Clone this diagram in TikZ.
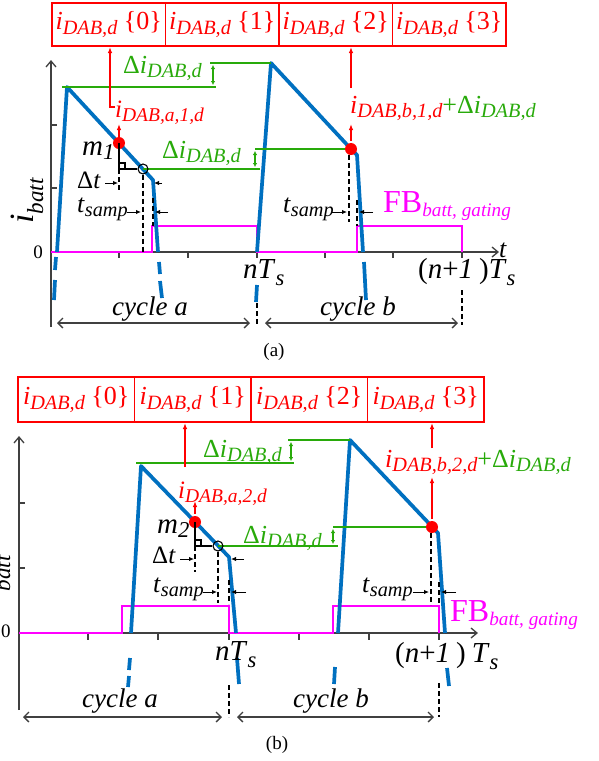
\documentclass[tikz,border=0pt]{standalone}
\usepackage{fontspec}
\setmainfont{Liberation Serif}
\usepackage{graphicx}
\usetikzlibrary{arrows.meta}
\definecolor{cblue}{RGB}{0,112,192}
\definecolor{cgreen}{RGB}{40,170,10}
\definecolor{cred}{RGB}{255,0,0}
\definecolor{cmag}{RGB}{255,0,255}
\definecolor{cax}{RGB}{64,64,64}
\newcommand\sbx[3]{\raisebox{#1}{\scalebox{#2}{\itshape #3}}}
\newcommand\sbs[1]{\sbx{-0.17em}{0.78}{#1}}
\newcommand\iD{\textit{i}\sbs{DAB,d}}
\newcommand\dI{Δ\textit{i}\sbs{DAB,d}}
\newcommand\fz[1]{\fontsize{#1}{#1}\selectfont}
\begin{document}
\begin{tikzpicture}[x=1pt,y=-1pt,
  lbl/.style={inner sep=0pt, anchor=base west},
  cell/.style={draw=cred, line width=1.4pt, minimum height=43pt, inner sep=0pt, text=cred, font=\fz{26}},
  axis/.style={draw=cax, line width=1.3pt, -{Straight Barb[length=6pt,width=10pt]}},
  tick/.style={draw=cax, line width=1.3pt},
  wave/.style={draw=cblue, line width=3.7pt, line join=round},
  lev/.style={draw=cgreen, line width=2.8pt},
  gdim/.style={draw=cgreen, line width=1.3pt, {Latex[length=4pt,width=4.5pt]}-{Latex[length=4pt,width=4.5pt]}},
  rarr/.style={draw=cred, line width=1.3pt, -{Latex[length=6pt,width=4.5pt]}},
  karr/.style={draw=black, line width=1pt, -{Latex[length=5pt,width=4.5pt]}},
  kline/.style={draw=black, line width=1.1pt},
  kdash/.style={draw=black, line width=1.2pt, dash pattern=on 5pt off 3pt},
  gate/.style={draw=cmag, line width=2.4pt},
  cyc/.style={draw=cax, line width=1.3pt, {Straight Barb[length=5pt,width=10pt]}-{Straight Barb[length=5pt,width=10pt]}},
  dot/.style={circle, fill=cred, inner sep=0pt, minimum size=12pt},
  ring/.style={circle, draw=black, line width=1.1pt, inner sep=0pt, minimum size=10pt},
]
\useasboundingbox (0,0) rectangle (599,761);
\fill[white] (0,0) rectangle (599,761);

% ================= panel (a) =================
\node[cell, minimum width=113.5pt] (ca0) at (108.75,24.5) {\iD\ \{0\}};
\node[cell, minimum width=113.5pt] (ca1) at (222.25,24.5) {\iD\ \{1\}};
\node[cell, minimum width=113.5pt] (ca2) at (335.75,24.5) {\iD\ \{2\}};
\node[cell, minimum width=113.5pt] (ca3) at (449.25,24.5) {\iD\ \{3\}};

\draw[axis] (51,327) -- (51,60);
\draw[axis] (51,252) -- (499,252);
\foreach \y in {125,188} \draw[tick] (51,\y) -- (57,\y);
\foreach \x in {119,188,257,325,393,462} \draw[tick] (\x,252) -- (\x,258);

\draw[gate] (51,252) -- (152,252) -- (152,226) -- (257,226) -- (257,252) -- (357,252) -- (357,226) -- (462,226) -- (462,252);

\draw[wave] (57,252) -- (67,87) -- (153,180) -- (158,252);
\draw[wave] (56,257) -- (55,270) (55,280) -- (54,300);
\draw[wave] (159,262) -- (160,274) (160,281) -- (162,298);
\draw[wave] (257,285) -- (256,302);
\draw[wave] (257,252) -- (271,63) -- (351,149) -- (357,155) -- (363,252);
\draw[wave] (364,262) -- (366,300);

\draw[lev] (62,87) -- (216,87);
\draw[lev] (210,63) -- (271,63);
\draw[gdim] (213,65) -- (213,85);
\draw[lev] (143,169) -- (260,169);
\draw[lev] (255,149) -- (351,149);
\draw[gdim] (255,151) -- (255,167);

\node[lbl, text=cgreen, font=\fz{26}] (dIa1) at (123,73) {\dI};
\node[lbl, text=cgreen, font=\fz{26}] (dIa2) at (162,158) {\dI};
\node[lbl, text=cred, font=\fz{25}] (ia1) at (115,117) {\textit{i}\sbs{DAB,a,1,d}};
\node[lbl, font=\fz{26}] (ib1) at (350,113) {\textcolor{cred}{\textit{i}\sbs{DAB,b,1,d}}\textcolor{cgreen}{+\dI}};

% black annotations cycle a
\node[dot] (da) at (119,143) {};
\node[ring] (ra) at (143,169) {};
\draw[kline] (119,143) -- (119,169) -- (ra.west);
\draw[kline] (119,163) -- (125,163) -- (125,169);
\draw[kdash] (119,169) -- (119,190);
\draw[kdash] (ra.south) -- (143,252);
\draw[kdash] (153,198) -- (153,226);
\node[lbl, font=\fz{29}] (m1) at (82,155) {\textit{m}\sbs{1}};
\node[lbl, font=\fz{25}] (dta) at (77,188) {Δ\textit{t}};
\node[lbl, font=\fz{26}] (tsa) at (77,212) {\textit{t}\sbs{samp}};
\draw[karr] (105,183) -- (118,183);
\draw[karr] (162,183) -- (154,183);
\draw[karr] (127,212) -- (141,212);
\draw[karr] (168,212) -- (155,212);

% cycle b annotations
\node[dot] (db) at (351,149) {};
\draw[kdash] (349,155) -- (349,222);
\draw[kdash] (357,200) -- (357,226);
\node[lbl, font=\fz{26}] (tsb) at (283,212) {\textit{t}\sbs{samp}};
\draw[karr] (332,212) -- (347,212);
\draw[karr] (373,212) -- (359,212);
\node[lbl, font=\fz{32}, text=cmag] (fba) at (383,212) {FB\sbx{-0.15em}{0.6}{batt, gating}};

% red arrows
\draw[rarr] (119,137) -- (119,124);
\draw[rarr] (115,107) -- (110,107) -- (110,47);
\draw[rarr] (351,141) -- (351,124);
\draw[rarr] (351,88) -- (351,47);

% axis labels
\node[inner sep=0pt, font=\fz{19}] (z0a) at (38,252) {0};
\node[inner sep=0pt, rotate=90, font=\fz{34}] (iba) at (27,201) {\textit{i}\sbx{-0.3em}{0.68}{batt}};
\node[lbl, font=\fz{26}] (ta) at (499,257) {\textit{t}};
\node[lbl, font=\fz{29}] (nTa) at (243,278) {\textit{nT}\sbx{-0.25em}{0.78}{s}};
\node[lbl, font=\fz{29}] (n1a) at (418,278) {(\textit{n}+\textit{1}\hspace{6pt})\textit{T}\sbx{-0.25em}{0.78}{s}};

\draw[kdash] (257,303) -- (257,325);
\draw[kdash] (462,290) -- (462,325);
\draw[cyc] (57,323) -- (250,323);
\draw[cyc] (265,323) -- (458,323);
\node[lbl, font=\fz{27}] (cya) at (112,315) {\textit{cycle a}};
\node[lbl, font=\fz{27}] (cyb) at (320,315) {\textit{cycle b}};
\node[font=\fz{19}] (capa) at (274,352) {(a)};

% ================= panel (b) =================
\node[cell, minimum width=116.5pt, minimum height=45pt] (cb0) at (76.25,399.5) {\iD\ \{0\}};
\node[cell, minimum width=116.5pt, minimum height=45pt] (cb1) at (192.75,399.5) {\iD\ \{1\}};
\node[cell, minimum width=116.5pt, minimum height=45pt] (cb2) at (309.25,399.5) {\iD\ \{2\}};
\node[cell, minimum width=116.5pt, minimum height=45pt] (cb3) at (425.75,399.5) {\iD\ \{3\}};

\draw[axis] (19,710) -- (19,436);
\draw[axis] (19,633) -- (478,633);
\foreach \y in {503,568} \draw[tick] (19,\y) -- (25,\y);
\foreach \x in {88,158,229,299,369,439} \draw[tick] (\x,633) -- (\x,640);

\draw[gate] (19,633) -- (122,633) -- (122,606) -- (229,606) -- (229,633) -- (333,633) -- (333,606) -- (439,606) -- (439,633);

\draw[wave] (131,633) -- (141,466) -- (229,557) -- (236,633);
\draw[wave] (130,658) -- (129,670) (129,676) -- (128,687);
\draw[wave] (237,658) -- (239,684);
\draw[wave] (338,633) -- (350,440) -- (438,533) -- (445,633);
\draw[wave] (335,667) -- (334,684);
\draw[wave] (447,668) -- (449,686);

\draw[lev] (136,463) -- (294,463);
\draw[lev] (288,440) -- (350,440);
\draw[gdim] (291,442) -- (291,461);
\draw[lev] (218,546) -- (338,546);
\draw[lev] (333,527) -- (432,527);
\draw[gdim] (333,529) -- (333,544);

\node[lbl, text=cgreen, font=\fz{26}] (dIb1) at (203,457) {\dI};
\node[lbl, text=cgreen, font=\fz{26}] (dIb2) at (243,543) {\dI};
\node[lbl, text=cred, font=\fz{25}] (ia2) at (178,498) {\textit{i}\sbs{DAB,a,2,d}};
\node[lbl, font=\fz{26}] (ib2) at (385,467) {\textcolor{cred}{\textit{i}\sbs{DAB,b,2,d}}\textcolor{cgreen}{+\dI}};

\node[dot] (dc) at (195,522) {};
\node[ring] (rc) at (218,546) {};
\draw[kline] (195,522) -- (195,546) -- (rc.west);
\draw[kline] (195,540) -- (201,540) -- (201,546);
\draw[kdash] (195,546) -- (195,572);
\draw[kdash] (rc.south) -- (218,603);
\draw[kdash] (229,580) -- (229,604);
\node[lbl, font=\fz{29}] (m2) at (157,533) {\textit{m}\sbs{2}};
\node[lbl, font=\fz{25}] (dtb) at (152,563) {Δ\textit{t}};
\node[lbl, font=\fz{26}] (tsc) at (153,592) {\textit{t}\sbs{samp}};
\draw[karr] (180,559) -- (194,559);
\draw[karr] (244,559) -- (231,559);
\draw[karr] (203,592) -- (217,592);
\draw[karr] (246,592) -- (231,592);

\node[dot] (dd) at (432,527) {};
\draw[kdash] (431,533) -- (431,605);
\draw[kdash] (439,582) -- (439,604);
\node[lbl, font=\fz{26}] (tsd) at (362,592) {\textit{t}\sbs{samp}};
\draw[karr] (413,592) -- (429,592);
\draw[karr] (456,592) -- (441,592);
\node[lbl, font=\fz{32}, text=cmag] (fbb) at (450,621) {FB\sbx{-0.15em}{0.6}{batt, gating}};

\draw[rarr] (195,514) -- (195,501);
\draw[rarr] (185,467) -- (185,423);
\draw[rarr] (432,519) -- (432,477);
\draw[rarr] (432,448) -- (432,423);

\node[inner sep=0pt, font=\fz{19}] (z0b) at (6,631) {0};
\node[inner sep=0pt, rotate=90, font=\fz{34}] (ibb) at (-6,578) {\textit{i}\sbx{-0.3em}{0.68}{batt}};
\node[lbl, font=\fz{29}] (nTb) at (215,660) {\textit{nT}\sbx{-0.25em}{0.78}{s}};
\node[lbl, font=\fz{29}] (n1b) at (395,662) {(\textit{n}+\textit{1}\hspace{6pt})\hspace{6pt}\textit{T}\sbx{-0.25em}{0.78}{s}};

\draw[kdash] (229,685) -- (229,717);
\draw[kdash] (439,683) -- (439,717);
\draw[cyc] (23,717) -- (222,717);
\draw[cyc] (237,717) -- (434,717);
\node[lbl, font=\fz{27}] (cyc1) at (82,707) {\textit{cycle a}};
\node[lbl, font=\fz{27}] (cyc2) at (293,707) {\textit{cycle b}};
\node[font=\fz{19}] (capb) at (277,745) {(b)};
\end{tikzpicture}
\end{document}
